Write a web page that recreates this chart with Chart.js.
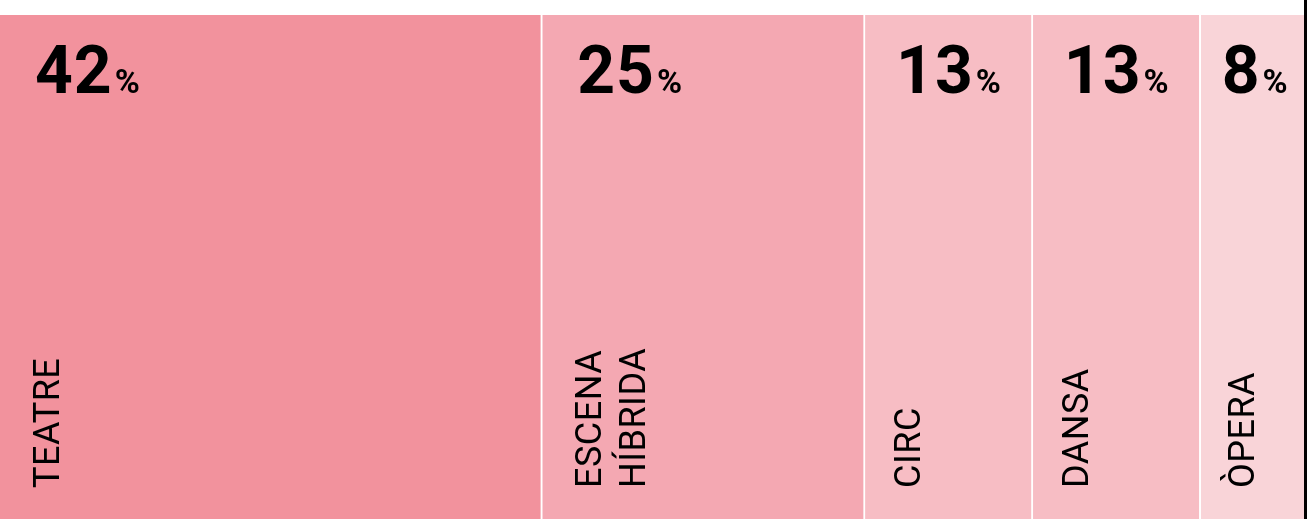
<!DOCTYPE html>
<html>
<head>
<meta charset="utf-8">
<script src="https://cdn.jsdelivr.net/npm/chart.js@4"></script>
<style>
  html, body { margin: 0; padding: 0; background: #fff; }
  #wrap { width: 1304px; height: 519px; border-right: 3px solid #000; position: relative; }
  canvas { display: block; }
</style>
</head>
<body>
<div id="wrap"><canvas id="c" width="1304" height="519"></canvas></div>
<script>
const categories = [['TEATRE'], ['ESCENA', 'HÍBRIDA'], ['CIRC'], ['DANSA'], ['ÒPERA']];
const values = [42, 25, 13, 13, 8];
const colors = ['#F2929D', '#F4A8B2', '#F7BDC4', '#F7BDC4', '#F9D4D8'];

const total = values.reduce((a, b) => a + b, 0);

const labelPlugin = {
  id: 'cellLabels',
  afterDatasetsDraw(chart) {
    const ctx = chart.ctx;
    const area = chart.chartArea;
    chart.data.datasets.forEach((ds, i) => {
      const el = chart.getDatasetMeta(i).data[0];
      if (!el) return;
      const x0 = Math.min(el.base, el.x);
      const w = Math.abs(el.x - el.base);
      const pad = w > 300 ? 35 : (w > 150 ? 31 : 21);
      ctx.save();
      ctx.fillStyle = '#000';
      ctx.textAlign = 'left';
      ctx.textBaseline = 'alphabetic';
      // big number
      ctx.font = 'bold 66px Roboto';
      ctx.letterSpacing = '1px';
      const num = String(values[i]);
      ctx.fillText(num, x0 + pad, area.top + 78);
      const nw = ctx.measureText(num).width;
      ctx.font = 'bold 34px Roboto';
      ctx.letterSpacing = '0px';
      ctx.fillText('%', x0 + pad + nw + 2, area.top + 78);
      // rotated category label
      ctx.font = '36px Roboto';
      ctx.letterSpacing = '0.5px';
      const lines = categories[i];
      const asc = ctx.measureText(lines[0]).actualBoundingBoxAscent;
      const bx = x0 + pad - 2 + asc;
      lines.forEach((ln, k) => {
        ctx.save();
        ctx.translate(bx + k * 44, area.top + 473);
        ctx.rotate(-Math.PI / 2);
        ctx.fillText(ln, 0, 0);
        ctx.restore();
      });
      ctx.restore();
    });
  }
};

new Chart(document.getElementById('c'), {
  type: 'bar',
  data: {
    labels: [''],
    datasets: categories.map((c, i) => ({
      label: c.join(' '),
      data: [values[i]],
      backgroundColor: colors[i],
      borderColor: '#ffffff',
      borderWidth: { left: 0, right: i < values.length - 1 ? 2 : 0, top: 0, bottom: 0 },
      borderSkipped: false,
      barPercentage: 1,
      categoryPercentage: 1
    }))
  },
  options: {
    indexAxis: 'y',
    responsive: false,
    animation: false,
    layout: { padding: { top: 15, left: 0, right: 0, bottom: 0 } },
    plugins: { legend: { display: false }, tooltip: { enabled: false } },
    scales: {
      x: { stacked: true, min: 0, max: total, display: false },
      y: { stacked: true, display: false }
    }
  },
  plugins: [labelPlugin]
});
</script>
</body>
</html>
